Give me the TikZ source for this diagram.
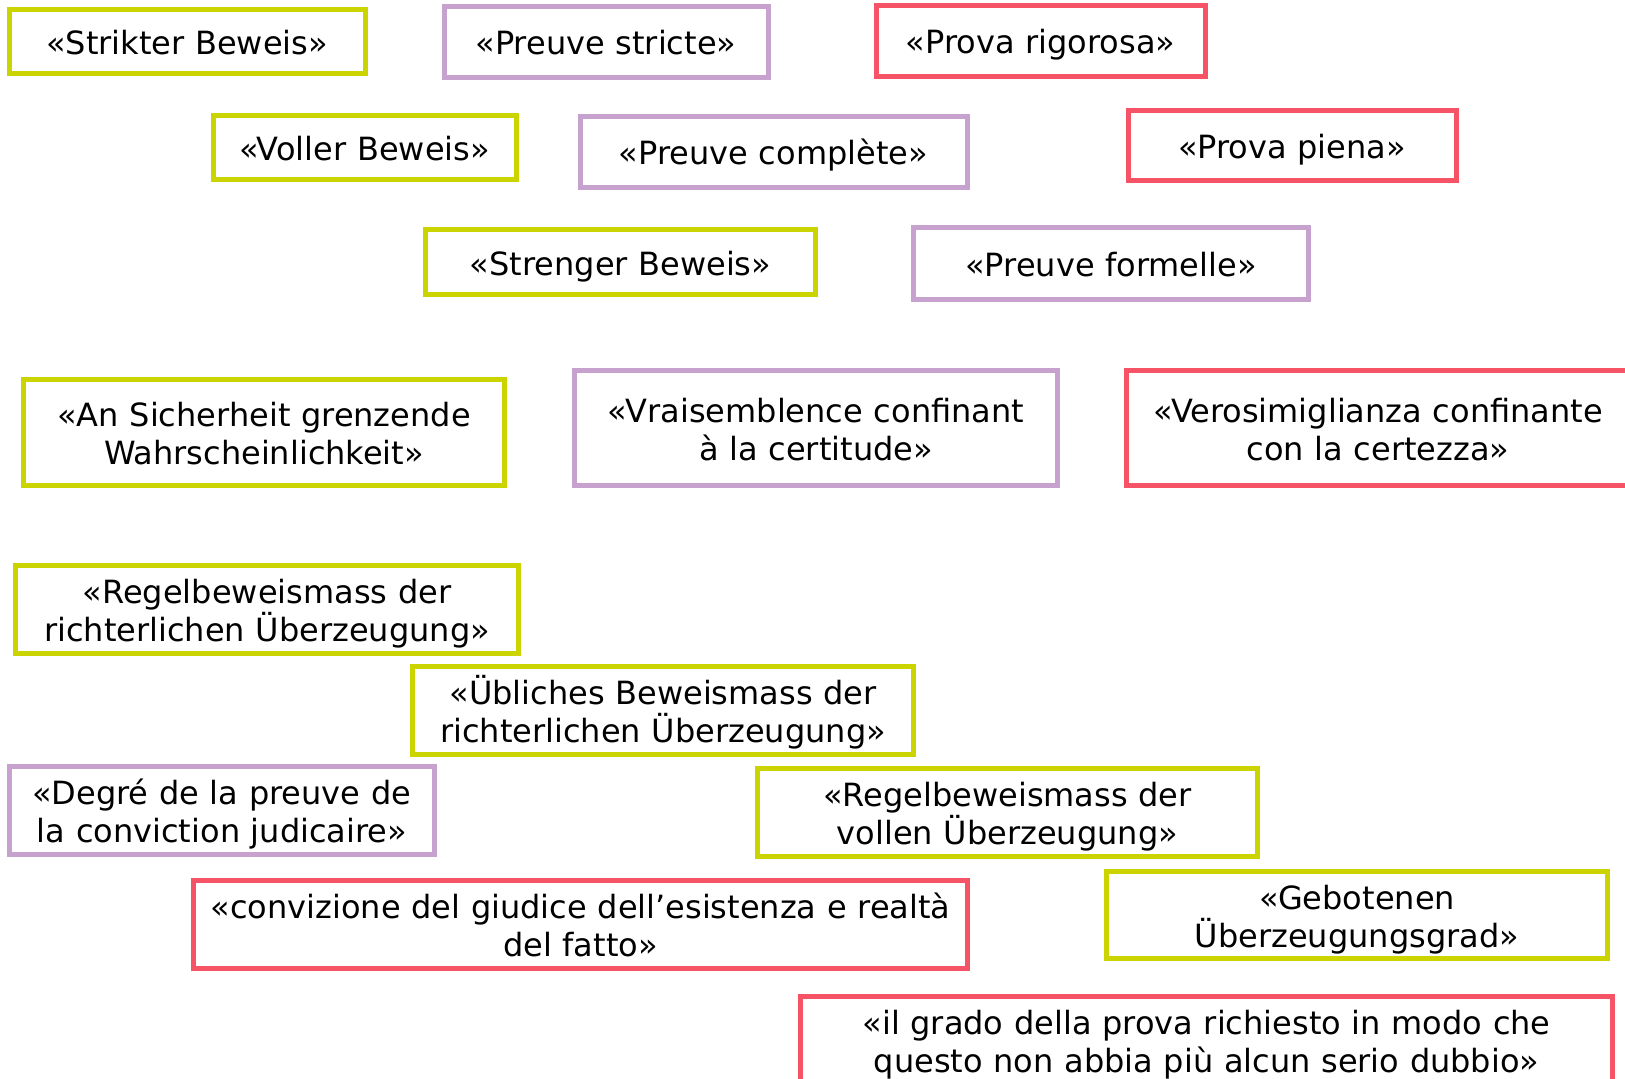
\documentclass[tikz,border=0pt]{standalone}
\usepackage{fontspec}
\setmainfont{DejaVu Sans}
\usepackage{xcolor}
\usepackage{tikz}

\definecolor{boxgreen}{HTML}{CCD400}
\definecolor{boxpurple}{HTML}{C8A2CF}
\definecolor{boxred}{HTML}{F75367}

\begin{document}
\begin{tikzpicture}[x=0.5pt,y=-0.5pt,every node/.style={shape=rectangle,draw,align=center,inner sep=0pt,line width=2.5pt,font=\fontsize{16}{19}\selectfont,execute at begin node={\rule{0pt}{19pt}},execute at end node={\strut}},deutsch/.style={draw=boxgreen},francais/.style={draw=boxpurple},italiano/.style={draw=boxred},wh/.style 2 args={minimum width=#1*0.5pt,minimum height=#2*0.5pt,text width=#1*0.5pt-10pt}]
      \useasboundingbox (0,0) rectangle (1625,1078);
      % first three rows
      \node[deutsch,wh={356}{64}] (strikter) at (187,41) {«Strikter Beweis»};
      \node[francais,wh={324}{71}] (stricte) at (606,41.5) {«Preuve stricte»};
      \node[italiano,wh={329}{71}] (rigorosa) at (1040.5,40.5) {«Prova rigorosa»};
      \node[deutsch,wh={303}{64}] (voller) at (364.5,147) {«Voller Beweis»};
      \node[francais,wh={387}{71}] (complete) at (773.5,151.5) {«Preuve complète»};
      \node[italiano,wh={328}{70}] (piena) at (1292,145) {«Prova piena»};
      \node[deutsch,wh={390}{65}] (strenger) at (620.5,262) {«Strenger Beweis»};
      \node[francais,wh={395}{72}] (formelle) at (1111,263.5) {«Preuve formelle»};
      % near certainty
      \node[deutsch,wh={481}{106}] (sicherheit) at (264,432.5) {«An Sicherheit grenzende\\Wahrscheinlichkeit»};
      \node[francais,wh={483}{115}] (vraisemblence) at (816,428) {«Vraisemblence confinant\\à la certitude»};
      \node[italiano,wh={503}{115}] (verosimiglianza) at (1378,428) {«Verosimiglianza confinante\\con la certezza»};
      % conviction
      \node[deutsch,wh={503}{88}] (regelrichter) at (267,609.5) {«Regelbeweismass der\\richterlichen Überzeugung»};
      \node[deutsch,wh={501}{88}] (ueblich) at (663,710.5) {«Übliches Beweismass der\\richterlichen Überzeugung»};
      \node[francais,wh={425}{88}] (degre) at (222,810.5) {«Degré de la preuve de\\la conviction judicaire»};
      \node[deutsch,wh={500}{86}] (regelvoll) at (1007.5,812.5) {«Regelbeweismass der\\vollen Überzeugung»};
      \node[italiano,wh={774}{86}] (convizione) at (580.5,924.5) {«convizione del giudice dell’esistenza e realtà\\del fatto»};
      \node[deutsch,wh={501}{87}] (geboten) at (1357,915) {«Gebotenen\\Überzeugungsgrad»};
      \node[italiano,wh={812}{88}] (grado) at (1206.5,1040) {«il grado della prova richiesto in modo che\\questo non abbia più alcun serio dubbio»};
\end{tikzpicture}
\end{document}
